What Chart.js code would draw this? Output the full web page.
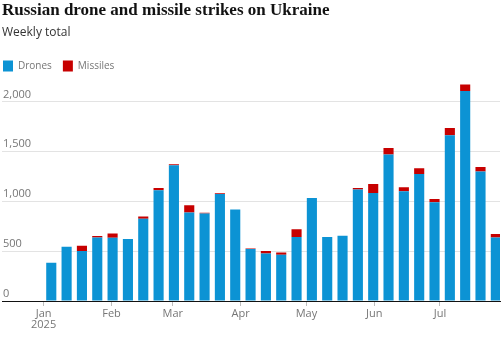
<!DOCTYPE html>
<html>
<head>
<meta charset="utf-8">
<script src="https://cdn.jsdelivr.net/npm/chart.js@4.4.6/dist/chart.umd.min.js"></script>
<style>
  html, body { margin: 0; padding: 0; background: #fff; }
  #wrap { position: relative; width: 501px; height: 346px; }
</style>
</head>
<body>
<div id="wrap"><canvas id="strikes"></canvas></div>
<script>
// week starting dates (one bar per week)
const weekStarts = [
  '2025-01-01', '2025-01-08', '2025-01-15', '2025-01-22', '2025-01-29',
  '2025-02-05', '2025-02-12', '2025-02-19', '2025-02-26', '2025-03-05',
  '2025-03-12', '2025-03-19', '2025-03-26', '2025-04-02', '2025-04-09',
  '2025-04-16', '2025-04-23', '2025-04-30', '2025-05-07', '2025-05-14',
  '2025-05-21', '2025-05-28', '2025-06-04', '2025-06-11', '2025-06-18',
  '2025-06-25', '2025-07-02', '2025-07-09', '2025-07-16', '2025-07-23'
]

const drones = [
  383, 543, 500, 637, 633, 620, 823, 1110, 1360, 887,
  877, 1073, 917, 522, 477, 463, 640, 1033, 640, 653,
  1117, 1083, 1467, 1100, 1273, 990, 1660, 2103, 1297, 637
]

const missiles = [
  0, 0, 53, 13, 44, 0, 24, 23, 10, 73,
  6, 7, 0, 5, 23, 24, 80, 0, 0, 0,
  16, 90, 66, 40, 57, 33, 73, 67, 46, 33
]

const monthStarts = ['2025-01-01', '2025-02-01', '2025-03-01', '2025-04-01', '2025-05-01', '2025-06-01', '2025-07-01']
const monthLabels = [['Jan', '2025'], 'Feb', 'Mar', 'Apr', 'May', 'Jun', 'Jul']
const yTicks = [0, 500, 1000, 1500, 2000]

const DAY = 86400000
const origin = Date.parse('2025-01-01')
const dayOf = (iso) => (Date.parse(iso) - origin) / DAY
// bars sit in the middle of their week
const weekCentres = weekStarts.map((d) => dayOf(d) + 3.5)
const monthDays = monthStarts.map(dayOf)

const grey = '#767676'
const sans = "'Open Sans', 'Noto Sans', sans-serif"

// legend sits flush with the left edge, not one padding in
const legendFlush = {
  id: 'legendFlush',
  afterLayout(chart) {
    chart.legend.left -= 10
    chart.legend.right -= 10
  }
}

new Chart(document.getElementById('strikes'), {
  type: 'bar',
  data: {
    datasets: [
      {
        label: 'Drones',
        data: weekCentres.map((x, i) => ({ x, y: drones[i] })),
        backgroundColor: '#0c93d4'
      },
      {
        label: 'Missiles',
        data: weekCentres.map((x, i) => ({ x, y: missiles[i] })),
        backgroundColor: '#c70000'
      }
    ]
  },
  plugins: [legendFlush],
  options: {
    responsive: true,
    maintainAspectRatio: false,
    animation: false,
    barPercentage: 0.66,
    categoryPercentage: 1,
    layout: { padding: { left: 2, right: 1, top: 0, bottom: 0 } },
    plugins: {
      tooltip: { enabled: false },
      title: {
        display: true,
        align: 'start',
        text: 'Russian drone and missile strikes on Ukraine',
        color: '#121212',
        font: { family: "'Liberation Serif', serif", size: 17, weight: 'bold', lineHeight: 1.2 },
        padding: { top: 0, bottom: 2 }
      },
      subtitle: {
        display: true,
        align: 'start',
        text: 'Weekly total',
        color: '#333333',
        font: { family: sans, size: 12, lineHeight: 1.25 },
        padding: { top: 3, bottom: 9 }
      },
      legend: {
        position: 'top',
        align: 'start',
        labels: {
          boxWidth: 10,
          boxHeight: 11,
          padding: 11,
          color: grey,
          font: { family: sans, size: 10 }
        }
      }
    },
    scales: {
      x: {
        type: 'linear',
        stacked: true,
        min: -19,
        max: 208.4,
        offset: false,
        afterBuildTicks: (scale) => {
          scale.ticks = monthDays.map((value) => ({ value }))
        },
        afterFit: (scale) => { scale.height = 45 },
        ticks: {
          color: grey,
          font: { family: sans, size: 11, lineHeight: 1.05 },
          padding: 2,
          maxRotation: 0,
          autoSkip: false,
          callback: (value, i) => monthLabels[i]
        },
        grid: {
          offset: false,
          drawOnChartArea: false,
          drawTicks: true,
          tickLength: 5,
          color: '#bdbdbd'
        },
        border: { display: true, color: '#121212', width: 1 }
      },
      y: {
        stacked: true,
        min: 0,
        max: 2200,
        afterBuildTicks: (scale) => {
          scale.ticks = yTicks.map((value) => ({ value }))
        },
        afterFit: (scale) => { scale.width = 0 },
        ticks: {
          mirror: true,
          padding: 1,
          labelOffset: -7,
          color: grey,
          font: { family: sans, size: 11 },
          callback: (value) => value.toLocaleString('en-GB')
        },
        grid: { color: '#e3e3e3', drawTicks: false },
        border: { display: false }
      }
    }
  }
})
</script>
</body>
</html>
